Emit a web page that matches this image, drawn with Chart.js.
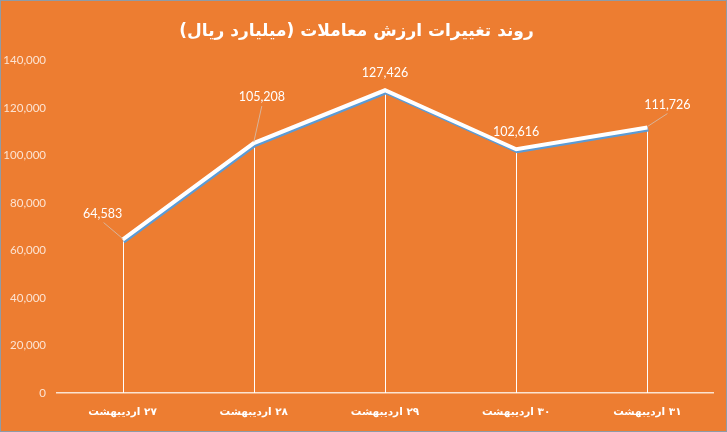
<!DOCTYPE html>
<html>
<head>
<meta charset="utf-8">
<title>روند تغییرات ارزش معاملات</title>
<script src="https://cdn.jsdelivr.net/npm/chart.js@4.4.0/dist/chart.umd.min.js"></script>
<style>
  html, body { margin: 0; padding: 0; background: #ED7D31; }
  canvas { display: block; }
</style>
</head>
<body>
<canvas id="lineChart" width="727" height="432" dir="rtl"></canvas>
<script>
// chart data
const days = ['۲۷ اردیبهشت', '۲۸ اردیبهشت', '۲۹ اردیبهشت', '۳۰ اردیبهشت', '۳۱ اردیبهشت'];
const tradeValue = [64583, 105208, 127426, 102616, 111726];
const yTicks = [0, 20000, 40000, 60000, 80000, 100000, 120000, 140000];

// where each value label sits relative to its point (dx, dy)
const labelOffsets = [[-20, -26], [8, -46], [0, -17], [0, -17], [20, -23]];

const orange = '#ED7D31';

// white shadowed line, like the excel one
const shadowLine = {
  id: 'shadowLine',
  beforeDatasetDraw(chart) {
    const ctx = chart.ctx;
    ctx.save();
    ctx.shadowColor = '#5B9BD5';
    ctx.shadowOffsetX = 1;
    ctx.shadowOffsetY = 2;
    ctx.shadowBlur = 0;
  },
  afterDatasetDraw(chart) {
    chart.ctx.restore();
  }
};

// drop lines from each point down to the axis
const dropLines = {
  id: 'dropLines',
  beforeDatasetsDraw(chart) {
    const ctx = chart.ctx;
    const bottom = chart.chartArea.bottom;
    ctx.save();
    ctx.strokeStyle = '#FFFFFF';
    ctx.lineWidth = 1;
    chart.getDatasetMeta(0).data.forEach(pt => {
      const x = Math.round(pt.x) + 0.5;
      ctx.beginPath();
      ctx.moveTo(x, pt.y);
      ctx.lineTo(x, bottom);
      ctx.stroke();
    });
    ctx.restore();
  }
};

// value labels with leader lines
const valueLabels = {
  id: 'valueLabels',
  afterDatasetsDraw(chart) {
    const ctx = chart.ctx;
    ctx.save();
    ctx.font = '12.5px Lato, sans-serif';
    ctx.textAlign = 'center';
    ctx.textBaseline = 'middle';
    chart.getDatasetMeta(0).data.forEach((pt, i) => {
      const [dx, dy] = labelOffsets[i];
      const lx = pt.x + dx, ly = pt.y + dy;
      if (Math.abs(dx) > 5) {
        ctx.strokeStyle = '#D8B49A';
        ctx.lineWidth = 1;
        ctx.beginPath();
        ctx.moveTo(lx + (dx < 0 ? 1 : 0), ly + 9);
        ctx.lineTo(pt.x, pt.y - 1);
        ctx.stroke();
      }
      ctx.fillStyle = '#FFFFFF';
      ctx.fillText(tradeValue[i].toLocaleString('en-US'), lx, ly);
    });
    ctx.restore();
  }
};

// thin grey frame
const frame = {
  id: 'frame',
  afterDraw(chart) {
    const ctx = chart.ctx;
    ctx.save();
    ctx.strokeStyle = '#8E9BA6';
    ctx.lineWidth = 2;
    ctx.strokeRect(0, 0, chart.width, chart.height);
    ctx.restore();
  }
};

const bg = {
  id: 'bg',
  beforeDraw(chart) {
    const ctx = chart.ctx;
    ctx.save();
    ctx.fillStyle = orange;
    ctx.fillRect(0, 0, chart.width, chart.height);
    ctx.restore();
  }
};

new Chart(document.getElementById('lineChart'), {
  type: 'line',
  data: {
    labels: days,
    datasets: [{
      data: tradeValue,
      borderColor: '#FFFFFF',
      borderWidth: 4,
      pointRadius: 0,
      tension: 0,
      fill: false
    }]
  },
  options: {
    responsive: false,
    animation: false,
    layout: { padding: { left: 0, right: 14, top: 0, bottom: 0 } },
    scales: {
      x: {
        offset: true,
        grid: { display: false, drawTicks: false },
        border: { display: true, color: '#FBE3D0', width: 1.5 },
        ticks: {
          color: '#FFFFFF',
          padding: 13,
          maxRotation: 0,
          font: { size: 10.5, weight: 'bold', family: '"DejaVu Sans", sans-serif' }
        },
        afterFit(scale) { scale.height = 39; }
      },
      y: {
        min: 0,
        max: 140000,
        grid: { display: false, drawTicks: false },
        border: { display: false },
        afterBuildTicks(scale) { scale.ticks = yTicks.map(v => ({ value: v })); },
        ticks: {
          color: '#FCE4D3',
          padding: 11,
          font: { size: 11.5, family: 'Lato, sans-serif' },
          callback: v => v.toLocaleString('en-US')
        },
        afterFit(scale) { scale.width = 57; }
      }
    },
    plugins: {
      legend: { display: false },
      tooltip: { enabled: false },
      title: {
        display: true,
        text: 'روند تغییرات ارزش معاملات (میلیارد ریال)',
        color: '#FFFFFF',
        font: { size: 17, weight: 'bold', family: '"DejaVu Sans", sans-serif' },
        padding: { top: 21, bottom: 19 }
      }
    }
  },
  plugins: [bg, dropLines, shadowLine, valueLabels, frame]
});
</script>
</body>
</html>
